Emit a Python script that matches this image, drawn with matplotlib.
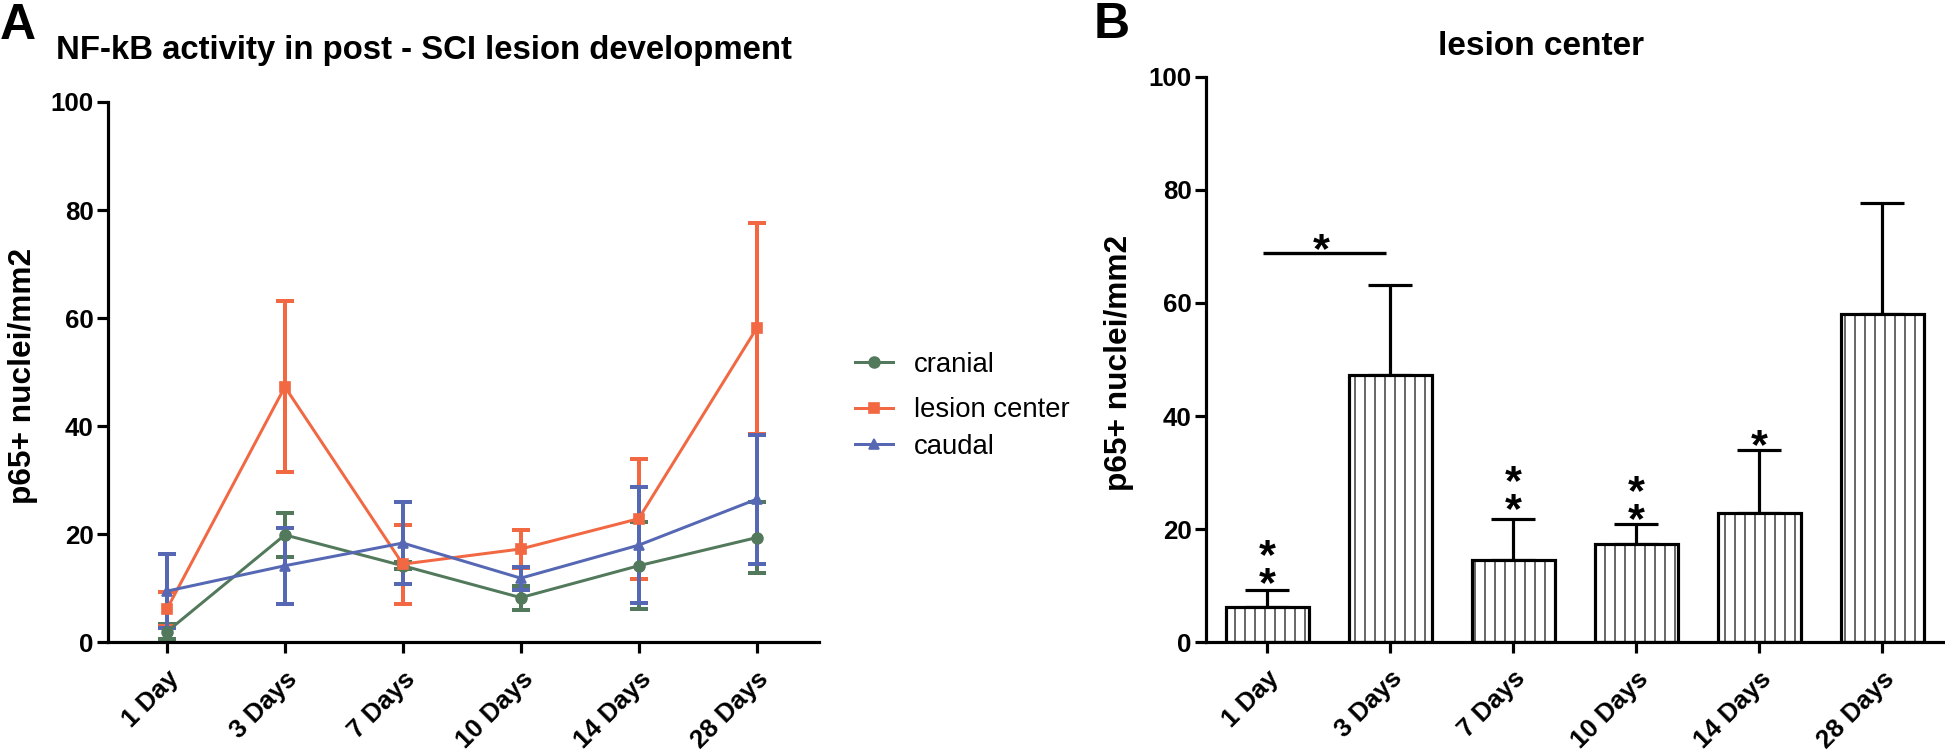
import matplotlib
matplotlib.use("Agg")
import matplotlib.pyplot as plt
import numpy as np
from matplotlib.lines import Line2D
import matplotlib.transforms as mtransforms

# ---------------- data ----------------
days = ['1 Day', '3 Days', '7 Days', '10 Days', '14 Days', '28 Days']

cranial_mean = [2.0, 19.9, 14.2, 8.3, 14.2, 19.4]
cranial_err = [1.4, 4.1, 0.6, 2.2, 8.0, 6.5]

lesion_mean = [6.2, 47.3, 14.5, 17.3, 22.9, 58.1]
lesion_err = [3.1, 15.8, 7.3, 3.6, 11.1, 19.6]

caudal_mean = [9.5, 14.2, 18.4, 11.9, 18.0, 26.5]
caudal_err = [6.9, 7.0, 7.6, 2.1, 10.7, 11.9]

series_names = ['cranial', 'lesion center', 'caudal']

# significance stars in panel B: bar index, number of stars, center height
star_idx = [0, 2, 3, 4]
star_count = [2, 2, 2, 1]
star_center = [15.0, 28.0, 26.3, 37.0]
sig_bar_x = [-0.03, 0.97]
sig_bar_y = 68.8
sig_star_x = 0.44
sig_star_y = 71.6

ylim = (0, 100)
yticks = [0, 20, 40, 60, 80, 100]

# ---------------- style ----------------
DPI = 120
plt.rcParams['font.family'] = ['Liberation Sans', 'DejaVu Sans']
green = '#52795B'
orange = '#F26843'
blue = '#5668B4'
colors = [green, orange, blue]
markers = ['o', 's', '^']

fig = plt.figure(figsize=(1946 / DPI, 751 / DPI), dpi=DPI)

x = np.arange(len(days))

# ---------------- panel A ----------------
axA = fig.add_axes([0.0555, 0.1445, 0.4209 - 0.0555, 0.8642 - 0.1445])
means = [cranial_mean, lesion_mean, caudal_mean]
errs = [cranial_err, lesion_err, caudal_err]
for m, e, c, mk, name in zip(means, errs, colors, markers, series_names):
    axA.errorbar(x, m, yerr=e, fmt='none', ecolor=c, elinewidth=2.4,
                 capsize=5.2, capthick=2.4, zorder=2)
    axA.plot(x, m, color=c, lw=1.8, marker=mk, ms=6.5, mec=c, mfc=c,
             label=name, zorder=3)

axA.set_xlim(-0.5, 5.53)
axA.set_ylim(*ylim)
axA.set_yticks(yticks)
axA.set_xticks(x)
axA.set_xticklabels(days, rotation=45, ha='right', va='top',
                    rotation_mode='anchor')

# ---------------- panel B ----------------
plt.rcParams['hatch.linewidth'] = 0.7
axB = fig.add_axes([0.6197, 0.1447, 1.0 - 0.6197, 0.898 - 0.1447])
axB.bar(x, lesion_mean, width=0.675, color='white', edgecolor='black',
        linewidth=1.9, hatch='||', zorder=2)
axB.errorbar(x, lesion_mean, yerr=[np.zeros(len(x)), lesion_err], fmt='none',
             ecolor='black', elinewidth=1.9, capsize=13, capthick=1.9,
             zorder=1)
axB.set_xlim(-0.498, 5.52)
axB.set_ylim(*ylim)
axB.set_yticks(yticks)
axB.set_xticks(x)
axB.set_xticklabels(days, rotation=45, ha='right', va='top',
                    rotation_mode='anchor')

# significance marks
axB.plot(sig_bar_x, [sig_bar_y, sig_bar_y], color='black', lw=2.0,
         solid_capstyle='butt')
star_fs = 26
# single star: glyph center sits ~0.57 em above the baseline
off1 = mtransforms.offset_copy(axB.transData, fig=fig, x=0,
                               y=-0.57 * star_fs, units='points')
# stacked stars (one text): glyph midpoint sits ~0.31 em above bbox center
off2 = mtransforms.offset_copy(axB.transData, fig=fig, x=0,
                               y=-0.31 * star_fs, units='points')
axB.text(sig_star_x, sig_star_y, '*', ha='center', va='baseline',
         fontsize=star_fs, fontweight='bold', transform=off1)
for i, n, yc in zip(star_idx, star_count, star_center):
    if n == 1:
        axB.text(x[i], yc, '*', ha='center', va='baseline', fontsize=star_fs,
                 fontweight='bold', transform=off1)
    else:
        axB.text(x[i], yc, '\n'.join(['*'] * n), ha='center', va='center',
                 fontsize=star_fs, fontweight='bold', linespacing=0.6,
                 multialignment='center', transform=off2)

# ---------------- common axis styling ----------------
for ax in (axA, axB):
    for s in ('top', 'right'):
        ax.spines[s].set_visible(False)
    for s in ('left', 'bottom'):
        ax.spines[s].set_linewidth(1.9)
        ax.spines[s].set_capstyle('projecting')
    ax.tick_params(axis='both', which='major', width=1.9, length=6.5,
                   labelsize=15.5, pad=2)
    ax.tick_params(axis='x', pad=8)
    for lab in ax.get_xticklabels() + ax.get_yticklabels():
        lab.set_fontweight('bold')
    ax.set_ylabel('p65+ nuclei/mm2', fontsize=19, fontweight='bold')
    ax.patch.set_visible(False)

axA.yaxis.set_label_coords(-0.098, 0.493)
axB.yaxis.set_label_coords(-0.097, 0.494)

# legend (line + marker only); first entry sits a little further apart
handles = [Line2D([0], [0], color=c, lw=1.8, marker=mk, ms=6.5, mfc=c, mec=c)
           for c, mk in zip(colors, markers)]
leg_kw = dict(loc='center left', frameon=False, fontsize=16.5,
              handlelength=1.4, handletextpad=0.75, labelspacing=0.37,
              borderpad=0, borderaxespad=0, numpoints=1)
fig.legend(handles[:1], series_names[:1],
           bbox_to_anchor=(855 / 1946, 1 - 365 / 751), **leg_kw)
fig.legend(handles[1:], series_names[1:],
           bbox_to_anchor=(855 / 1946, 1 - 428.5 / 751), **leg_kw)

# titles and panel letters
fig.text(424 / 1946, 1 - 58.6 / 751,
         'NF-kB activity in post - SCI lesion development', ha='center',
         va='baseline', fontsize=19.7, fontweight='bold')
fig.text(1541 / 1946, 1 - 55 / 751, 'lesion center', ha='center',
         va='baseline', fontsize=20, fontweight='bold')
fig.text(0.0, 1 - 39 / 751, 'A', ha='left', va='baseline', fontsize=30,
         fontweight='bold')
fig.text(1094 / 1946, 1 - 38 / 751, 'B', ha='left', va='baseline',
         fontsize=30, fontweight='bold')

fig.savefig('out.png', dpi=DPI)
